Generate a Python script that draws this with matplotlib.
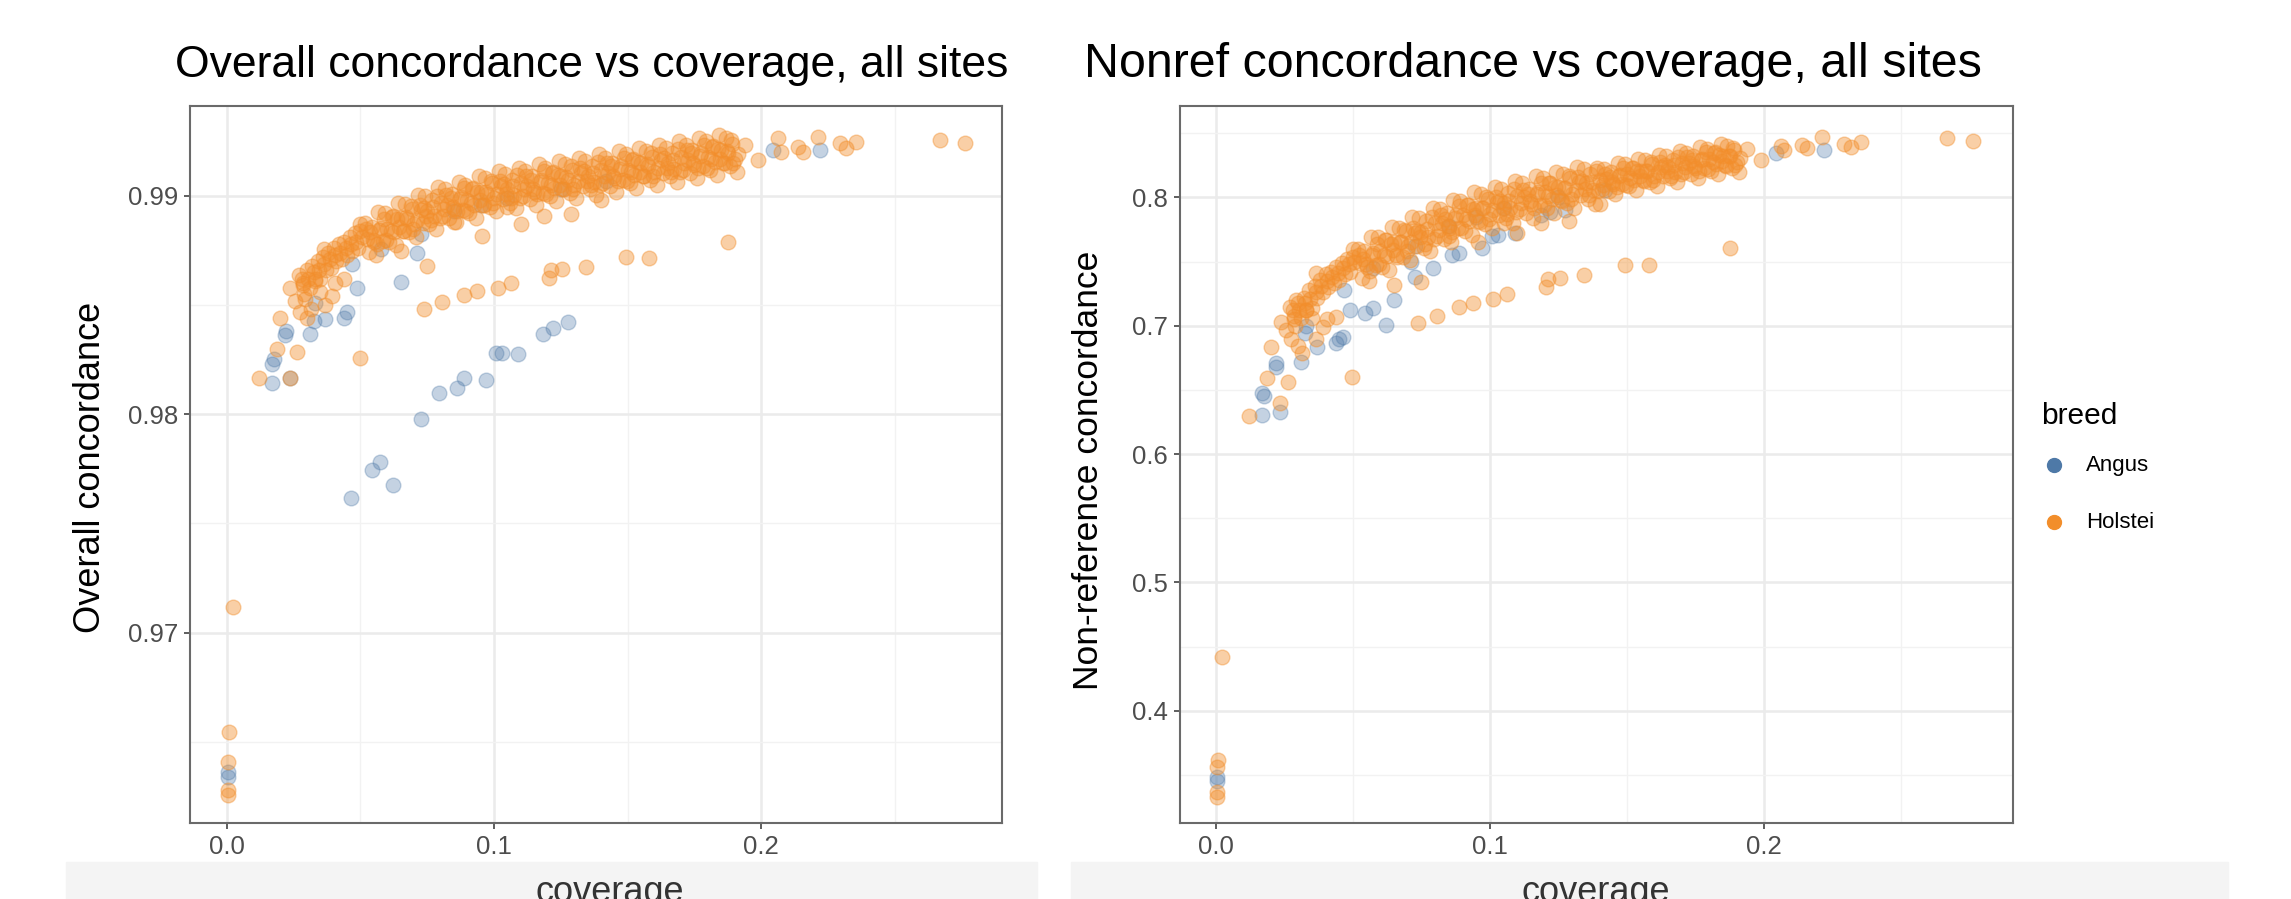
import matplotlib
matplotlib.use("Agg")
import matplotlib.pyplot as plt
from matplotlib.patches import Rectangle
from matplotlib.lines import Line2D

plt.rcParams['font.family'] = ['Liberation Sans', 'DejaVu Sans']

# ---------------- data ----------------
# each sample: coverage, overall concordance, non-reference concordance

# Angus
ang_cov = [0.0004, 0.0004, 0.0169, 0.0169, 0.0175, 0.0219, 0.0221, 0.0235, 0.0312, 0.0325,
           0.0330, 0.0369, 0.0438, 0.0450, 0.0465, 0.0469, 0.0488, 0.0544, 0.0573, 0.0575,
           0.0621, 0.0650, 0.0713, 0.0725, 0.0725, 0.0794, 0.0850, 0.0863, 0.0888, 0.0950,
           0.0971, 0.1006, 0.1031, 0.1050, 0.1090, 0.1185, 0.1219, 0.1250, 0.1275, 0.1420,
           0.2044, 0.2219]
ang_overall = [0.96363, 0.96340, 0.98145, 0.98229, 0.98252, 0.98363, 0.98382, 0.98165, 0.98366, 0.98427,
               0.98511, 0.98435, 0.98440, 0.98470, 0.97615, 0.98687, 0.98580, 0.97744, 0.97783, 0.98756,
               0.97676, 0.98606, 0.98740, 0.97980, 0.98824, 0.98098, 0.98930, 0.98119, 0.98168, 0.98960,
               0.98159, 0.98280, 0.98280, 0.98990, 0.98275, 0.98366, 0.98397, 0.99030, 0.98424, 0.99070,
               0.99211, 0.99211]
ang_nonref = [0.3486, 0.3450, 0.6305, 0.6474, 0.6450, 0.6708, 0.6681, 0.6331, 0.6720, 0.6942,
              0.7000, 0.6837, 0.6863, 0.6900, 0.6915, 0.7280, 0.7123, 0.7097, 0.7136, 0.7450,
              0.7006, 0.7201, 0.7500, 0.7383, 0.7620, 0.7450, 0.7780, 0.7552, 0.7570, 0.7850,
              0.7604, 0.7700, 0.7710, 0.7920, 0.7721, 0.7860, 0.7889, 0.8000, 0.7900, 0.8060,
              0.8344, 0.8370]

# Holstein: samples near zero coverage, early scatter, outlier arc, tail
hol_out_cov = [0.0024, 0.0009, 0.0005, 0.0003, 0.0003,
               0.0119, 0.0188, 0.0263, 0.0200, 0.0235, 0.0238, 0.0255, 0.0275, 0.0294, 0.0300,
               0.0313, 0.0330, 0.0350, 0.0364, 0.0367, 0.0392, 0.0404, 0.0440, 0.0498, 0.0500,
               0.0270, 0.0285,
               0.0750, 0.0956, 0.1188, 0.1288, 0.0650, 0.0850, 0.1100, 0.1400, 0.1050,
               0.0738, 0.0806, 0.0888, 0.0938, 0.1013, 0.1063, 0.1206, 0.1213, 0.1256, 0.1344,
               0.1494, 0.1580, 0.1875,
               0.1938, 0.1988, 0.2063, 0.2075, 0.2138, 0.2156, 0.2213, 0.2294, 0.2319, 0.2356,
               0.2669, 0.2763]
hol_out_overall = [0.97116, 0.96546, 0.96409, 0.96279, 0.96256,
                   0.98168, 0.98298, 0.98287, 0.98443, 0.98165, 0.98580, 0.98520, 0.98470, 0.98530, 0.98440,
                   0.98480, 0.98620, 0.98560, 0.98756, 0.98500, 0.98540, 0.98600, 0.98620, 0.98256, 0.98870,
                   0.98640, 0.98600,
                   0.98680, 0.98817, 0.98908, 0.98916, 0.98750, 0.98880, 0.98870, 0.98980, 0.98950,
                   0.98481, 0.98516, 0.98547, 0.98565, 0.98580, 0.98600, 0.98626, 0.98660, 0.98664, 0.98675,
                   0.98721, 0.98718, 0.98790,
                   0.99234, 0.99165, 0.99265, 0.99203, 0.99226, 0.99203, 0.99272, 0.99242, 0.99219, 0.99249,
                   0.99257, 0.99242]
hol_out_nonref = [0.4421, 0.3616, 0.3560, 0.3369, 0.3330,
                  0.6297, 0.6590, 0.6564, 0.6837, 0.6400, 0.7032, 0.6967, 0.6900, 0.7200, 0.6840,
                  0.6786, 0.7120, 0.7060, 0.7410, 0.6900, 0.6990, 0.7050, 0.7070, 0.6603, 0.7600,
                  0.7150, 0.7050,
                  0.7340, 0.7650, 0.7800, 0.7820, 0.7320, 0.7700, 0.7720, 0.7950, 0.7800,
                  0.7019, 0.7076, 0.7144, 0.7180, 0.7206, 0.7248, 0.7300, 0.7362, 0.7370, 0.7396,
                  0.7474, 0.7474, 0.7604,
                  0.8380, 0.8292, 0.8400, 0.8370, 0.8410, 0.8383, 0.8474, 0.8420, 0.8396, 0.8435,
                  0.8461, 0.8443]

# Holstein: main dense band
hol_band_cov = [
    0.028, 0.029, 0.030, 0.031, 0.032, 0.033, 0.034, 0.035, 0.036, 0.037, 0.038, 0.039,
    0.040, 0.041, 0.042, 0.043, 0.044, 0.045, 0.046, 0.047, 0.048, 0.049, 0.050,
    0.0285, 0.0305, 0.0325, 0.0345, 0.0365, 0.0385, 0.0405, 0.0425, 0.0445, 0.0465, 0.0485, 0.0505,
    0.0517, 0.0525, 0.0533, 0.0542, 0.0550, 0.0558, 0.0567, 0.0575, 0.0583,
    0.0592, 0.0600, 0.0608, 0.0617, 0.0625, 0.0633, 0.0642, 0.0650, 0.0658,
    0.0667, 0.0675, 0.0683, 0.0692, 0.0700, 0.0708, 0.0717, 0.0725, 0.0733,
    0.0742, 0.0750, 0.0758, 0.0767, 0.0775, 0.0783, 0.0792, 0.0800, 0.0808,
    0.0817, 0.0825, 0.0833, 0.0842, 0.0850, 0.0858, 0.0867, 0.0875, 0.0883,
    0.0892, 0.0900, 0.0908, 0.0917, 0.0925, 0.0933, 0.0942, 0.0950, 0.0958,
    0.0967, 0.0975, 0.0983, 0.0992, 0.1000, 0.1008, 0.1017, 0.1025, 0.1033,
    0.1042, 0.1050, 0.1058, 0.1067, 0.1075, 0.1083, 0.1092, 0.1100, 0.1108,
    0.1117, 0.1125, 0.1133, 0.1142, 0.1150, 0.1158, 0.1167, 0.1175, 0.1183,
    0.1192, 0.1200, 0.1208, 0.1217, 0.1225, 0.1233, 0.1242, 0.1250, 0.1258,
    0.1267, 0.1275, 0.1283, 0.1292, 0.1300, 0.1308, 0.1317, 0.1325, 0.1333,
    0.1342, 0.1350, 0.1358, 0.1367, 0.1375, 0.1383, 0.1392, 0.1400, 0.1408,
    0.1417, 0.1425, 0.1433, 0.1442, 0.1450, 0.1458, 0.1467, 0.1475, 0.1483,
    0.1492, 0.1500, 0.1508, 0.1517, 0.1525, 0.1533, 0.1542, 0.1550, 0.1558,
    0.1567, 0.1575, 0.1583, 0.1592, 0.1600, 0.1608, 0.1617, 0.1625, 0.1633,
    0.1642, 0.1650, 0.1658, 0.1667, 0.1675, 0.1683, 0.1692, 0.1700, 0.1708,
    0.1717, 0.1725, 0.1733, 0.1742, 0.1750, 0.1758, 0.1767, 0.1775, 0.1783,
    0.1792, 0.1800, 0.1808, 0.1817, 0.1825, 0.1833, 0.1842, 0.1850, 0.1858,
    0.1867, 0.1875, 0.1883, 0.1892, 0.1900, 0.1908,
    0.05375, 0.05625, 0.05875, 0.06125, 0.06375, 0.06625, 0.06875, 0.07125,
    0.07375, 0.07625, 0.07875, 0.08125, 0.08375, 0.08625, 0.08875, 0.09125,
    0.09375, 0.09625, 0.09875, 0.10125, 0.10375, 0.10625, 0.10875, 0.11125,
    0.11375, 0.11625, 0.11875, 0.12125, 0.12375, 0.12625, 0.12875, 0.13125,
    0.13375, 0.13625, 0.13875, 0.14125, 0.14375, 0.14625, 0.14875, 0.15125,
    0.15375, 0.15625, 0.15875, 0.16125, 0.16375, 0.16625, 0.16875, 0.17125,
    0.17375, 0.17625, 0.17875, 0.18125, 0.18375, 0.18625, 0.18875, 0.19125,
    0.0521, 0.0546, 0.0571, 0.0596, 0.0621, 0.0646, 0.0671, 0.0696,
    0.0721, 0.0746, 0.0771, 0.0796, 0.0821, 0.0846, 0.0871, 0.0896,
    0.0921, 0.0946, 0.0971, 0.0996, 0.1021, 0.1046, 0.1071, 0.1096,
    0.1121, 0.1146, 0.1171, 0.1196, 0.1221, 0.1246, 0.1271, 0.1296,
    0.1321, 0.1346, 0.1371, 0.1396, 0.1421, 0.1446, 0.1471, 0.1496,
    0.1521, 0.1546, 0.1571, 0.1596, 0.1621, 0.1646, 0.1671, 0.1696,
    0.1721, 0.1746, 0.1771, 0.1796, 0.1821, 0.1846, 0.1871, 0.1896]
hol_band_overall = [
    0.9862, 0.9855, 0.9866, 0.9858, 0.9868, 0.9861, 0.9870, 0.9862, 0.9872, 0.9866, 0.9874, 0.9867,
    0.9876, 0.9870, 0.9878, 0.9871, 0.9879, 0.9873, 0.9881, 0.9875, 0.9883, 0.9876, 0.9884,
    0.9859, 0.9862, 0.9865, 0.9866, 0.9869, 0.9871, 0.9873, 0.9874, 0.9876, 0.9878, 0.9879, 0.9881,
    0.98875, 0.98805, 0.98745, 0.9886, 0.9879, 0.9873, 0.98925, 0.98855, 0.98795,
    0.9892, 0.9885, 0.9879, 0.98905, 0.98835, 0.98775, 0.9897, 0.9890, 0.9884,
    0.98965, 0.98895, 0.98835, 0.9894, 0.9887, 0.9881, 0.99005, 0.98935, 0.98875,
    0.9900, 0.9893, 0.9887, 0.9898, 0.9891, 0.9885, 0.9904, 0.9897, 0.9891,
    0.9903, 0.9896, 0.9890, 0.9901, 0.9894, 0.9888, 0.99065, 0.98995, 0.98935,
    0.9905, 0.9898, 0.9892, 0.9903, 0.9896, 0.9890, 0.9909, 0.9902, 0.9896,
    0.9908, 0.9901, 0.9895, 0.9906, 0.9899, 0.9893, 0.99115, 0.99045, 0.98985,
    0.9910, 0.9903, 0.9897, 0.99075, 0.99005, 0.98945, 0.9913, 0.9906, 0.9900,
    0.99115, 0.99045, 0.98985, 0.9909, 0.9902, 0.9896, 0.99145, 0.99075, 0.99015,
    0.9913, 0.9906, 0.9900, 0.99105, 0.99035, 0.98975, 0.9916, 0.9909, 0.9903,
    0.99145, 0.99075, 0.99015, 0.9912, 0.9905, 0.9899, 0.99175, 0.99105, 0.99045,
    0.9916, 0.9909, 0.9903, 0.99135, 0.99065, 0.99005, 0.9919, 0.9912, 0.9906,
    0.99175, 0.99105, 0.99045, 0.9915, 0.9908, 0.9902, 0.99205, 0.99135, 0.99075,
    0.9919, 0.9912, 0.9906, 0.99165, 0.99095, 0.99035, 0.9922, 0.9915, 0.9909,
    0.99205, 0.99135, 0.99075, 0.9918, 0.9911, 0.9905, 0.99235, 0.99165, 0.99105,
    0.9922, 0.9915, 0.9909, 0.99195, 0.99125, 0.99065, 0.9925, 0.9918, 0.9912,
    0.99235, 0.99165, 0.99105, 0.9921, 0.9914, 0.9908, 0.99265, 0.99195, 0.99135,
    0.9925, 0.9918, 0.9912, 0.99225, 0.99155, 0.99095, 0.9928, 0.9921, 0.9915,
    0.99265, 0.99195, 0.99135, 0.9924, 0.9917, 0.9911,
    0.98835, 0.9878, 0.98895, 0.9884, 0.98895, 0.9884, 0.98955, 0.9889,
    0.98945, 0.9889, 0.9900, 0.9894, 0.9899, 0.9893, 0.99035, 0.9897,
    0.9902, 0.9896, 0.9907, 0.9901, 0.99055, 0.9899, 0.99095, 0.9903,
    0.99075, 0.9901, 0.99115, 0.9905, 0.99095, 0.9903, 0.99135, 0.9907,
    0.99115, 0.9905, 0.99155, 0.9909, 0.99135, 0.9907, 0.99175, 0.9911,
    0.99155, 0.9909, 0.99195, 0.9913, 0.99175, 0.9911, 0.99215, 0.9915,
    0.99195, 0.9913, 0.99235, 0.9917, 0.99215, 0.9915, 0.99255, 0.9919,
    0.9885, 0.9880, 0.98845, 0.9880, 0.9891, 0.9886, 0.98905, 0.9885,
    0.9896, 0.9891, 0.9895, 0.9890, 0.99005, 0.9895, 0.98985, 0.9893,
    0.99035, 0.9898, 0.9902, 0.9897, 0.9907, 0.9901, 0.99045, 0.9899,
    0.9909, 0.9903, 0.99065, 0.9901, 0.9911, 0.9905, 0.99085, 0.9903,
    0.9913, 0.9907, 0.99105, 0.9905, 0.9915, 0.9909, 0.99125, 0.9907,
    0.9917, 0.9911, 0.99145, 0.9909, 0.9919, 0.9913, 0.99165, 0.9911,
    0.9921, 0.9915, 0.99185, 0.9913, 0.9923, 0.9917, 0.99205, 0.9915]
hol_band_nonref = [
    0.712, 0.700, 0.718, 0.706, 0.722, 0.712, 0.728, 0.714, 0.731, 0.722, 0.736, 0.726,
    0.740, 0.730, 0.742, 0.733, 0.746, 0.736, 0.749, 0.740, 0.752, 0.742, 0.754,
    0.708, 0.712, 0.718, 0.721, 0.726, 0.731, 0.735, 0.738, 0.741, 0.745, 0.748, 0.750,
    0.760, 0.749, 0.737, 0.758, 0.746, 0.735, 0.769, 0.757, 0.747,
    0.769, 0.758, 0.746, 0.7665, 0.7545, 0.7435, 0.777, 0.765, 0.755,
    0.7765, 0.7655, 0.7535, 0.774, 0.762, 0.751, 0.7845, 0.7725, 0.7625,
    0.784, 0.773, 0.761, 0.7815, 0.7695, 0.7585, 0.792, 0.780, 0.770,
    0.791, 0.780, 0.768, 0.788, 0.776, 0.765, 0.798, 0.786, 0.776,
    0.797, 0.786, 0.774, 0.794, 0.782, 0.771, 0.804, 0.792, 0.782,
    0.8025, 0.7915, 0.7795, 0.799, 0.787, 0.776, 0.8085, 0.7965, 0.7865,
    0.807, 0.796, 0.784, 0.8035, 0.7915, 0.7805, 0.813, 0.801, 0.791,
    0.811, 0.800, 0.788, 0.807, 0.795, 0.784, 0.8165, 0.8045, 0.7945,
    0.815, 0.804, 0.792, 0.811, 0.799, 0.788, 0.820, 0.808, 0.798,
    0.8185, 0.8075, 0.7955, 0.815, 0.803, 0.792, 0.824, 0.812, 0.802,
    0.822, 0.811, 0.799, 0.818, 0.806, 0.795, 0.823, 0.814, 0.807,
    0.8223, 0.8143, 0.8053, 0.8195, 0.8105, 0.8025, 0.8268, 0.8178, 0.8108,
    0.826, 0.818, 0.809, 0.823, 0.814, 0.806, 0.830, 0.821, 0.814,
    0.829, 0.821, 0.812, 0.826, 0.817, 0.809, 0.833, 0.824, 0.817,
    0.832, 0.824, 0.815, 0.829, 0.820, 0.812, 0.836, 0.827, 0.820,
    0.835, 0.827, 0.818, 0.832, 0.823, 0.815, 0.839, 0.830, 0.823,
    0.838, 0.830, 0.821, 0.835, 0.826, 0.818, 0.8415, 0.8325, 0.8255,
    0.840, 0.832, 0.823, 0.837, 0.828, 0.820,
    0.752, 0.743, 0.764, 0.755, 0.7635, 0.754, 0.7745, 0.765,
    0.7735, 0.764, 0.7845, 0.775, 0.783, 0.773, 0.793, 0.783,
    0.791, 0.781, 0.8005, 0.790, 0.7975, 0.787, 0.8065, 0.796,
    0.803, 0.792, 0.8115, 0.801, 0.808, 0.797, 0.8165, 0.806,
    0.813, 0.802, 0.821, 0.810, 0.8163, 0.8085, 0.8233, 0.8155,
    0.821, 0.813, 0.8275, 0.8195, 0.825, 0.817, 0.8315, 0.8235,
    0.829, 0.821, 0.8355, 0.8275, 0.833, 0.8245, 0.8385, 0.8305,
    0.755, 0.748, 0.755, 0.748, 0.7665, 0.759, 0.7655, 0.758,
    0.7765, 0.769, 0.7755, 0.768, 0.786, 0.778, 0.784, 0.776,
    0.794, 0.786, 0.7915, 0.783, 0.8005, 0.792, 0.7975, 0.789,
    0.806, 0.797, 0.8025, 0.794, 0.811, 0.802, 0.8075, 0.799,
    0.816, 0.807, 0.812, 0.805, 0.8186, 0.8123, 0.8166, 0.810,
    0.8233, 0.8168, 0.821, 0.814, 0.8273, 0.8208, 0.825, 0.818,
    0.8313, 0.8248, 0.829, 0.822, 0.8353, 0.8283, 0.832, 0.825]

breeds = ["Angus", "Holstei"]
colors = {"Angus": "#4E79A7", "Holstei": "#F28E2B"}

# ---------------- layout ----------------
W, H = 2291, 899
fig = plt.figure(figsize=(W / 100, H / 100), dpi=100)


def box(x0, y0, x1, y1):
    return [x0 / W, 1 - y1 / H, (x1 - x0) / W, (y1 - y0) / H]


ax1 = fig.add_axes(box(190, 106, 1002, 823))
ax2 = fig.add_axes(box(1180, 106, 2013, 823))

hol_cov = hol_out_cov + hol_band_cov
hol_overall = hol_out_overall + hol_band_overall
hol_nonref = hol_out_nonref + hol_band_nonref

panels = [
    (ax1, ang_overall, hol_overall, [0.97, 0.98, 0.99], [0.965, 0.975, 0.985],
     (0.96128, 0.99412), (-0.0138, 0.2901)),
    (ax2, ang_nonref, hol_nonref, [0.4, 0.5, 0.6, 0.7, 0.8],
     [0.35, 0.45, 0.55, 0.65, 0.75, 0.85], (0.3125, 0.8713), (-0.0131, 0.2909)),
]

for ax, ang_y, hol_y, yt, ytm, ylim, xlim in panels:
    ax.scatter(ang_cov, ang_y, s=112, color=colors["Angus"], alpha=0.33,
               linewidths=1.0, zorder=3)
    ax.scatter(hol_cov, hol_y, s=112, color=colors["Holstei"], alpha=0.42,
               linewidths=1.0, zorder=3)
    ax.set_xlim(*xlim)
    ax.set_ylim(*ylim)
    ax.set_xticks([0.0, 0.1, 0.2])
    ax.set_xticklabels(["0.0", "0.1", "0.2"])
    ax.set_xticks([0.05, 0.15, 0.25], minor=True)
    ax.set_yticks(yt)
    ax.set_yticklabels([f"{v:g}" for v in yt])
    ax.set_yticks(ytm, minor=True)
    ax.grid(which="major", color="#EBEBEB", lw=1.8, zorder=0)
    ax.grid(which="minor", color="#F2F2F2", lw=1.0, zorder=0)
    ax.set_axisbelow(True)
    ax.tick_params(which="major", direction="out", length=4.5, width=1.1,
                   color="#333333", labelsize=18.5, labelcolor="#4D4D4D", pad=4)
    ax.tick_params(which="minor", length=0)
    for sp in ax.spines.values():
        sp.set_color("#6A6A6A")
        sp.set_linewidth(1.5)

# titles and axis labels
fig.text(175 / W, 1 - 77 / H, "Overall concordance vs coverage, all sites",
         fontsize=32, va="baseline", ha="left")
fig.text(1084 / W, 1 - 77 / H, "Nonref concordance vs coverage, all sites",
         fontsize=34.8, va="baseline", ha="left")
fig.text(91 / W, 1 - 467 / H, "Overall concordance", rotation=90,
         fontsize=26, ha="center", va="center")
fig.text(1088 / W, 1 - 470 / H, "Non-reference concordance", rotation=90,
         fontsize=25.5, ha="center", va="center")

# light strip at the bottom with the cut-off x labels
for x0, x1 in [(66, 1037), (1071, 2228)]:
    fig.patches.append(Rectangle((x0 / W, 0), (x1 - x0) / W, 37 / H,
                                 transform=fig.transFigure, color="#F4F4F4",
                                 zorder=0))
fig.text(610 / W, 1 - 902 / H, "coverage", fontsize=26, ha="center",
         va="baseline", color="#333333", zorder=5)
fig.text(1596 / W, 1 - 902 / H, "coverage", fontsize=26, ha="center",
         va="baseline", color="#333333", zorder=5)

# legend
fig.text(2041 / W, 1 - 416 / H, "breed", fontsize=21.5, ha="left", va="center")
for name, py in zip(breeds, [465, 522]):
    fig.add_artist(Line2D([2054 / W], [1 - py / H], marker="o", markersize=10,
                          color=colors[name], linestyle="none",
                          transform=fig.transFigure))
    fig.text(2086 / W, 1 - py / H, name, fontsize=16, ha="left", va="center")

fig.savefig("out.png", dpi=100)
